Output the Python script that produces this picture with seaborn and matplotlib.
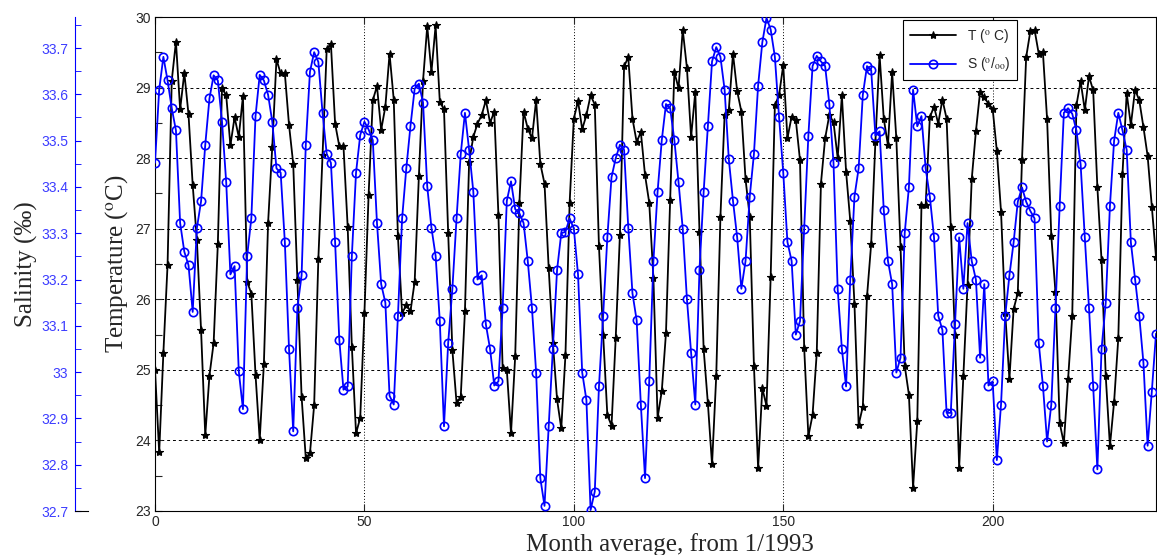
import numpy as np
import pandas as pd
import matplotlib
matplotlib.use("Agg")
import matplotlib.pyplot as plt
import seaborn as sns
from matplotlib.ticker import MultipleLocator

# monthly values, month 0 = 1/1993
months = np.arange(240)

temp = [25.00, 23.83, 25.24, 26.49, 29.10, 29.65, 28.69, 29.21, 28.62, 27.62,
        26.84, 25.56, 24.07, 24.92, 25.38, 26.78, 28.99, 28.89, 28.18, 28.58,
        28.30, 28.88, 26.25, 26.08, 24.93, 24.01, 25.09, 27.08, 28.16, 29.40,
        29.20, 29.20, 28.47, 27.92, 26.27, 24.62, 23.75, 23.82, 24.50, 26.57,
        28.04, 29.55, 29.62, 28.49, 28.17, 28.17, 27.03, 25.33, 24.10, 24.32,
        25.80, 27.48, 28.82, 29.02, 28.40, 28.73, 29.48, 28.83, 26.89, 25.80,
        25.92, 25.83, 26.25, 27.74, 29.10, 29.87, 29.22, 29.88, 28.80, 28.69,
        26.94, 25.28, 24.53, 24.62, 25.83, 27.95, 28.30, 28.49, 28.61, 28.82,
        28.50, 28.66, 27.19, 25.02, 25.00, 24.10, 25.19, 27.36, 28.66, 28.42,
        28.28, 28.82, 27.92, 27.64, 26.44, 25.38, 24.58, 24.17, 25.21, 27.37,
        28.56, 28.81, 28.41, 28.61, 28.89, 28.76, 26.75, 25.50, 24.36, 24.21,
        25.45, 26.91, 29.30, 29.43, 28.56, 28.23, 28.37, 27.76, 27.37, 26.30,
        24.32, 24.70, 25.52, 27.41, 29.22, 28.99, 29.82, 29.28, 28.30, 28.94,
        26.96, 25.29, 24.53, 23.66, 24.91, 27.17, 28.61, 28.68, 29.48, 28.95,
        28.66, 27.70, 27.17, 25.06, 23.61, 24.74, 24.49, 26.32, 28.75, 28.89,
        29.32, 28.28, 28.59, 28.54, 27.97, 25.31, 24.06, 24.36, 25.24, 27.64,
        28.28, 28.61, 28.51, 28.00, 28.89, 27.81, 27.11, 25.94, 24.22, 24.48,
        26.04, 26.79, 28.23, 29.46, 28.56, 28.18, 29.22, 28.28, 26.74, 25.06,
        24.65, 23.33, 24.27, 27.33, 27.33, 28.58, 28.73, 28.49, 28.83, 28.56,
        27.03, 25.49, 23.61, 24.92, 26.20, 27.70, 28.38, 28.94, 28.86, 28.77,
        28.70, 28.10, 27.24, 25.80, 24.87, 25.86, 26.09, 27.97, 29.43, 29.80,
        29.82, 29.48, 29.50, 28.55, 26.90, 26.10, 24.25, 23.96, 24.87, 25.76,
        28.75, 29.09, 28.68, 29.16, 28.96, 27.59, 26.55, 24.91, 23.92, 24.55,
        25.45, 27.78, 28.92, 28.47, 28.97, 28.82, 28.44, 28.03, 27.31, 26.60]

sal = [33.452, 33.610, 33.681, 33.630, 33.570, 33.522, 33.322, 33.260, 33.231, 33.130,
       33.311, 33.369, 33.491, 33.591, 33.641, 33.630, 33.541, 33.410, 33.211, 33.229,
       33.002, 32.920, 33.251, 33.332, 33.553, 33.642, 33.630, 33.599, 33.541, 33.440,
       33.431, 33.281, 33.050, 32.872, 33.139, 33.209, 33.491, 33.649, 33.691, 33.670,
       33.560, 33.471, 33.452, 33.281, 33.070, 32.962, 32.969, 33.251, 33.431, 33.512,
       33.541, 33.524, 33.501, 33.322, 33.190, 33.150, 32.949, 32.930, 33.121, 33.332,
       33.440, 33.532, 33.612, 33.623, 33.582, 33.401, 33.312, 33.251, 33.110, 32.883,
       33.063, 33.180, 33.332, 33.471, 33.560, 33.480, 33.390, 33.200, 33.209, 33.103,
       33.050, 32.971, 32.980, 33.139, 33.370, 33.412, 33.352, 33.343, 33.322, 33.240,
       33.139, 32.999, 32.771, 32.711, 32.883, 33.050, 33.221, 33.300, 33.303, 33.332,
       33.310, 33.211, 32.999, 32.940, 32.702, 32.742, 32.969, 33.122, 33.291, 33.421,
       33.462, 33.491, 33.480, 33.312, 33.170, 33.112, 32.930, 32.771, 32.980, 33.240,
       33.390, 33.501, 33.579, 33.570, 33.501, 33.410, 33.310, 33.158, 33.042, 32.930,
       33.221, 33.390, 33.531, 33.671, 33.702, 33.681, 33.610, 33.460, 33.370, 33.291,
       33.180, 33.240, 33.379, 33.471, 33.619, 33.712, 33.765, 33.740, 33.681, 33.551,
       33.431, 33.281, 33.240, 33.081, 33.110, 33.310, 33.511, 33.661, 33.683, 33.671,
       33.661, 33.579, 33.452, 33.179, 33.050, 32.969, 33.199, 33.379, 33.440, 33.599,
       33.661, 33.652, 33.511, 33.520, 33.350, 33.240, 33.190, 32.999, 33.031, 33.300,
       33.399, 33.610, 33.531, 33.553, 33.440, 33.379, 33.291, 33.122, 33.091, 32.912,
       32.912, 33.103, 33.291, 33.180, 33.322, 33.240, 33.200, 33.031, 33.190, 32.971,
       32.980, 32.810, 32.930, 33.122, 33.209, 33.280, 33.368, 33.399, 33.368, 33.348,
       33.332, 33.063, 32.971, 32.850, 32.930, 33.139, 33.359, 33.560, 33.570, 33.558,
       33.522, 33.449, 33.291, 33.139, 32.969, 32.790, 33.050, 33.150, 33.359, 33.500,
       33.560, 33.522, 33.480, 33.280, 33.200, 33.122, 33.020, 32.841, 32.958, 33.083]

sal_ticks = [32.7, 32.8, 32.9, 33.0, 33.1, 33.2, 33.3, 33.4, 33.5, 33.6, 33.7]
month_ticks = [0, 50, 100, 150, 200]

df = pd.DataFrame({"month": months, "temp": temp, "sal": sal})

sns.set_style("ticks")
plt.rcParams["font.family"] = ["Liberation Sans", "DejaVu Sans"]
plt.rcParams["mathtext.fontset"] = "stix"
serif = "Liberation Serif"

W, H = 1157, 555
fig = plt.figure(figsize=(W / 100, H / 100), dpi=100)
ax = fig.add_axes([155 / W, 44 / H, 1001 / W, 494 / H])

sns.lineplot(data=df, x="month", y="temp", ax=ax, color="k", lw=1.3,
             marker="*", markersize=6, markeredgecolor="k",
             markeredgewidth=0.8, legend=False)
ax.set_xlim(0, 239)
ax.set_ylim(23, 30)
ax.set_xticks(month_ticks)
ax.yaxis.set_major_locator(MultipleLocator(1))
ax.yaxis.set_minor_locator(MultipleLocator(0.5))
ax.tick_params(which="both", direction="in", top=True, right=True,
               length=5, width=0.8, labelsize=10, pad=3)
ax.grid(axis="y", which="major", color="k", ls=(0, (3, 3)), lw=0.7)
ax.grid(axis="x", which="major", color="k", ls=(0, (1, 2)), lw=0.7)
for s in ax.spines.values():
    s.set_linewidth(0.8)
    s.set_color("k")
ax.set_xlabel("Month average, from 1/1993", fontsize=18, family=serif)
ax.xaxis.set_label_coords((670 - 155) / 1001, -0.045)
ax.set_ylabel(r"Temperature ($^{\rm o}$C)", fontsize=18, family=serif)
ax.yaxis.set_label_coords(-0.025, 0.5)

# salinity on a twin scale
ax2 = ax.twinx()
sns.lineplot(data=df, x="month", y="sal", ax=ax2, color="blue", lw=1.3,
             marker="o", markersize=6, markerfacecolor="none",
             markeredgecolor="blue", markeredgewidth=1.2, legend=False)
ax2.set_ylim(32.7, 33.767)
ax2.set_yticks([])
ax2.set_ylabel("")
for s in ax2.spines.values():
    s.set_visible(False)

# detached salinity axis on the left
sax = fig.add_axes([75 / W, 44 / H, 13 / W, 494 / H])
sax.patch.set_alpha(0)
sax.set_ylim(32.7, 33.767)
sax.set_yticks(sal_ticks)
sax.set_yticklabels([f"{v:g}" for v in sal_ticks])
sax.yaxis.set_minor_locator(MultipleLocator(0.05))
sax.set_xticks([])
sax.spines["top"].set_visible(False)
sax.spines["right"].set_visible(False)
sax.spines["left"].set_color("blue")
sax.spines["bottom"].set_color("k")
sax.tick_params(axis="y", which="both", direction="in", length=4,
                color="blue", labelcolor="#3c3cff", labelsize=10, pad=5)
sax.set_ylabel("Salinity (\u2030)", fontsize=18, family=serif)
sax.yaxis.set_label_coords(-2.85, 0.5)

handles = [ax.get_lines()[0], ax2.get_lines()[0]]
leg = ax2.legend(handles, [r"T ($^{\rm o}$ C)", r"S ($^{\rm o}$/$_{\rm oo}$)"],
                 loc="upper left", bbox_to_anchor=((903 - 155) / 1001, (511 - 20) / 494),
                 borderaxespad=0, fancybox=False, framealpha=1, edgecolor="k",
                 fontsize=10, handlelength=3.3, labelspacing=0.75, borderpad=0.5)
leg.get_frame().set_linewidth(0.8)

fig.savefig("out.png", dpi=100)
